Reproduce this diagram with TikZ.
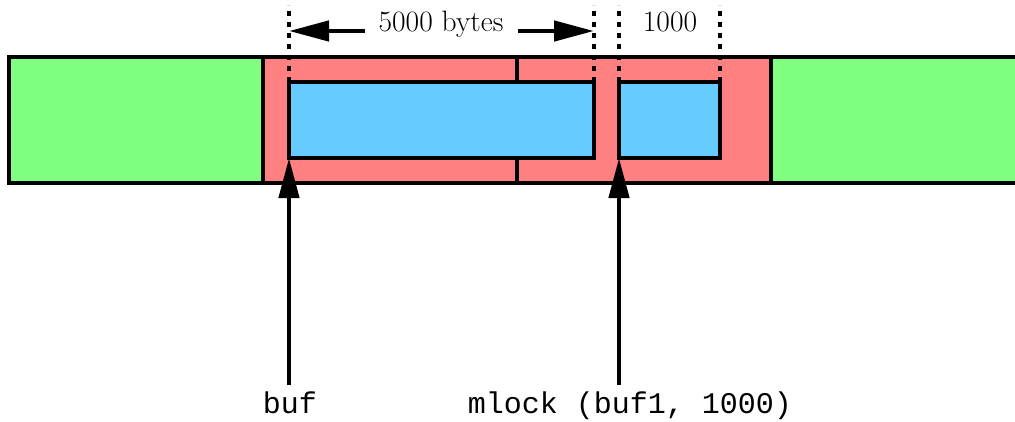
\documentclass[tikz,border=0pt]{standalone}
\usepackage{fontspec}
\newfontfamily\codefont{Liberation Mono}
\usetikzlibrary{arrows.meta}
\definecolor{freemem}{HTML}{80FF80}
\definecolor{usedmem}{HTML}{FF8080}
\definecolor{bufmem}{HTML}{66CCFF}
\tikzset{
  outline/.style={draw=black, line width=4.5pt},
  guide/.style={draw=black, line width=4.5pt, dash pattern=on 5pt off 6pt},
  pointer/.style={draw=black, line width=4.5pt, -{Triangle[length=40pt,width=20pt]}},
  sizelabel/.style={inner sep=0pt, anchor=base, font=\fontsize{29.5}{34}\selectfont},
  codelabel/.style={inner sep=0pt, anchor=base, font=\codefont\fontsize{30}{34}\selectfont},
}
\begin{document}
\begin{tikzpicture}[x=1pt, y=-1pt]
\useasboundingbox (0,0) rectangle (1015,421);

% memory strip: free / locked / free regions
\fill[freemem] (9,57) rectangle (1020,183);
\fill[usedmem] (263,57) rectangle (771,183);
\draw[outline] (1020,57) -- (9,57) -- (9,183) -- (1020,183);
\draw[outline] (263,57) -- (263,183);
\draw[outline] (771,57) -- (771,183);
\draw[outline] (517,57) -- (517,183);

% buffers inside the locked pages
\draw[outline, fill=bufmem] (289,82) rectangle (594,158);
\draw[outline, fill=bufmem] (619,82) rectangle (720,158);

% extent markers
\coordinate (g1) at (289,82);
\coordinate (g2) at (594,82);
\coordinate (g3) at (619,82);
\coordinate (g4) at (720,82);
\draw[guide] (g1) -- ++(0,-77);
\draw[guide] (g2) -- ++(0,-77);
\draw[guide] (g3) -- ++(0,-77);
\draw[guide] (g4) -- ++(0,-77);

% size annotations
\node[sizelabel] (big) at (441,31) {5000 bytes};
\node[sizelabel] (small) at (670,31) {1000};
\coordinate (bl) at (365,31);
\coordinate (br) at (518,31);
\coordinate (tl) at (289,31);
\coordinate (tr) at (594,31);
\draw[pointer] (bl) -- (tl);
\draw[pointer] (br) -- (tr);

% code labels and pointers
\node[codelabel] (buf) at (290,413) {buf};
\node[codelabel] (mlock) at (630,413) {mlock (buf1, 1000)};
\coordinate (s1) at (289,385);
\coordinate (s2) at (619,385);
\coordinate (p1) at (289,158);
\coordinate (p2) at (619,158);
\draw[pointer] (s1) -- (p1);
\draw[pointer] (s2) -- (p2);
\end{tikzpicture}
\end{document}
